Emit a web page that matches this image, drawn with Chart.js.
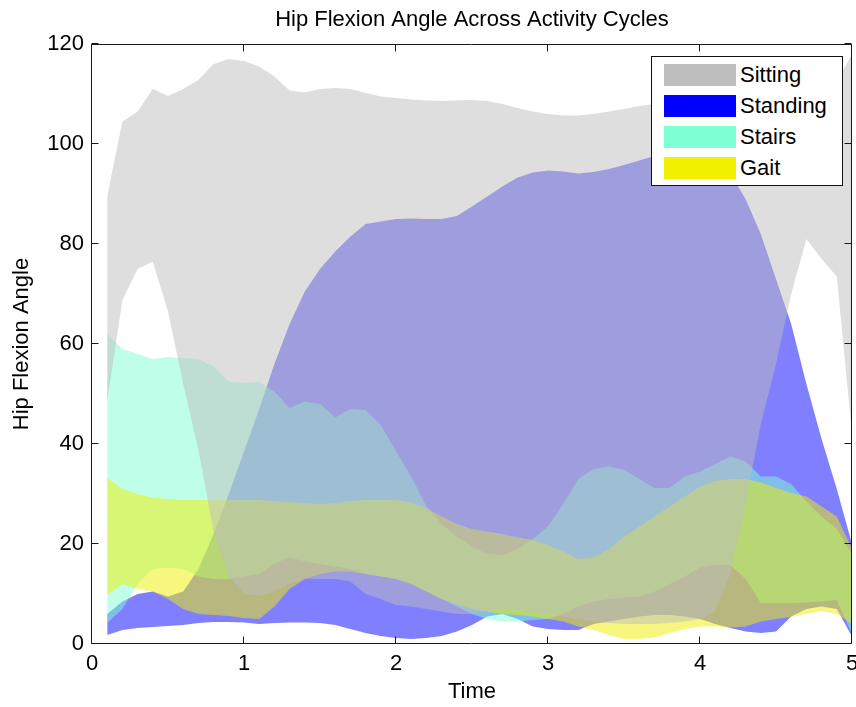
<!DOCTYPE html>
<html>
<head>
<meta charset="utf-8">
<title>Hip Flexion Angle Across Activity Cycles</title>
<script src="https://cdn.jsdelivr.net/npm/chart.js@4.4.1/dist/chart.umd.min.js"></script>
<style>
    html, body { margin: 0; padding: 0; background: #fff; }
    #wrap { position: relative; width: 856px; height: 707px; }
    #legend {
        position: absolute; background: #fff; border: 1px solid #111; box-sizing: border-box;
        width: 192px; height: 130px; padding: 2px 0 0 12px;
        font: 22px "Liberation Sans", Arial, Helvetica, sans-serif; color: #000;
    }
    #legend .row { display: flex; align-items: center; height: 31px; }
    #legend .sw { display: inline-block; width: 72px; height: 22px; margin-right: 4px; }
</style>
</head>
<body>
<div id="wrap">
    <canvas id="chart" width="856" height="707"></canvas>
    <div id="legend"></div>
</div>
<script>
// sample times (s)
const times = [0.1, 0.2, 0.3, 0.4, 0.5, 0.6, 0.7, 0.8, 0.9, 1.0,
               1.1, 1.2, 1.3, 1.4, 1.5, 1.6, 1.7, 1.8, 1.9, 2.0,
               2.1, 2.2, 2.3, 2.4, 2.5, 2.6, 2.7, 2.8, 2.9, 3.0,
               3.1, 3.2, 3.3, 3.4, 3.5, 3.6, 3.7, 3.8, 3.9, 4.0,
               4.1, 4.2, 4.3, 4.4, 4.5, 4.6, 4.7, 4.8, 4.9, 5.0];

const sittingUpper = [89.5, 104.5, 106.5, 111, 109.6, 111, 112.8, 116, 117, 116.6,
                      115.5, 113.5, 110.7, 110.3, 111, 111.2, 111, 110.2, 109.5, 109.2,
                      108.9, 108.7, 108.6, 108.7, 108.8, 108.6, 108, 107.2, 106.5, 106,
                      105.7, 105.7, 106, 106.5, 107, 107.6, 108, 108.4, 108.8, 109,
                      109.3, 109.5, 109.7, 110, 110.2, 110.5, 111, 111.5, 112.5, 118];
const sittingLower = [48.5, 68.8, 75, 76.5, 66.5, 52, 38.8, 22.5, 13.5, 10,
                      9.6, 10.5, 12, 13, 13, 13, 12.5, 10, 9, 7.8,
                      7.5, 7, 6.5, 6, 6, 6.5, 7, 7, 6.5, 6,
                      5.5, 5, 4.5, 4.2, 4, 4, 4, 4.2, 4.5, 5,
                      6.5, 14, 28, 44, 56, 70, 81, 77, 73.5, 42];

const standingUpper = [6, 8.5, 10, 10.5, 9.5, 10.5, 15, 22, 30, 38.5,
                       47, 56, 64, 70.5, 75, 78.5, 81.5, 84, 84.5, 85,
                       85.1, 85, 85, 85.6, 87.5, 89.5, 91.5, 93.3, 94.3, 94.7,
                       94.5, 94.1, 94.4, 95, 95.8, 96.7, 97.6, 98, 98.5, 98.5,
                       97, 94, 89, 82, 73, 64, 52, 41, 31, 20];
const standingLower = [1.8, 2.8, 3.2, 3.4, 3.6, 3.8, 4.2, 4.4, 4.4, 4.3,
                       4, 4.2, 4.3, 4.3, 4.2, 3.8, 3, 2.2, 1.6, 1.2,
                       1, 1.2, 1.6, 2.5, 3.8, 5.5, 6, 5, 3.5, 3,
                       2.8, 2.8, 4, 4.5, 5, 5.5, 5.8, 5.8, 5.5, 5,
                       4, 3.2, 2.5, 2.2, 2.5, 5.5, 7, 7.5, 7, 1.5];

const stairsUpper = [62, 59, 58, 57, 57.4, 57.2, 57, 55.5, 52.5, 52.2,
                     52.4, 50.5, 47.2, 48.5, 48, 45.3, 47, 46.8, 43.8, 38.5,
                     33.5, 27.5, 24, 21.5, 19.5, 18, 17.8, 19, 21, 23.5,
                     28, 33, 35, 35.5, 34.8, 33, 31.2, 31.2, 33.5, 34.5,
                     36, 37.5, 36.5, 33.5, 33.5, 32, 28.5, 25.5, 23, 18];
const stairsLower = [4.2, 7, 12, 15, 15.3, 15, 13.5, 13, 13, 13.5,
                     14, 16, 17.4, 16.5, 16, 15.5, 15, 14, 13.5, 13,
                     12, 10.5, 9, 7.5, 6, 5, 4.5, 4.5, 4.8, 5,
                     6, 7.5, 8.5, 9, 9.3, 9.5, 10.5, 12, 13.5, 15.3,
                     15.8, 15.8, 13, 8.2, 8.2, 8.2, 8.3, 8.5, 8.8, 2];

const gaitUpper = [33.2, 31, 30, 29.3, 29, 28.8, 28.8, 28.8, 28.8, 28.8,
                   28.8, 28.6, 28.4, 28.2, 28, 28.2, 28.6, 28.8, 28.8, 28.8,
                   28.3, 27.2, 25.5, 24, 23, 22.5, 22, 21.3, 20.8, 19.8,
                   18.5, 17, 17.3, 19, 21.5, 23.5, 25.5, 27.5, 29.5, 31.5,
                   32.6, 33, 33, 32.3, 31.2, 30.2, 29.5, 27.5, 25.5, 19];
const gaitLower = [9.8, 12, 11, 10.5, 9, 7, 6, 5.8, 5.6, 5.2,
                   5, 7.5, 11, 13, 14, 14.5, 14.5, 14, 13.5, 13,
                   12, 10.5, 9, 8, 7, 6.5, 6, 5.8, 5.5, 5,
                   4.5, 3.5, 2.8, 1.8, 1, 1, 1.3, 2.2, 3, 3.5,
                   3.5, 3.3, 3.5, 4.5, 5, 5.4, 6, 6.6, 6, 4];

const xTicks = [0, 1, 2, 3, 4, 5];
const yTicks = [0, 20, 40, 60, 80, 100, 120];

// legend order; "layer" is the drawing order (0 = on top)
const bands = [
    { label: 'Sitting',  upper: sittingUpper,  lower: sittingLower,  rgb: [190, 190, 190], layer: 0 },
    { label: 'Standing', upper: standingUpper, lower: standingLower, rgb: [0, 0, 255],     layer: 3 },
    { label: 'Stairs',   upper: stairsUpper,   lower: stairsLower,   rgb: [127, 255, 212], layer: 2 },
    { label: 'Gait',     upper: gaitUpper,     lower: gaitLower,     rgb: [240, 240, 0],   layer: 1 }
];

const FONT = '"Liberation Sans", Arial, Helvetica, sans-serif';
const TICK = 7;

const toPoints = (vals) => times.map((t, i) => ({ x: t, y: vals[i] }));

const datasets = [];
bands.forEach((b, i) => {
    const common = { borderWidth: 0, borderColor: 'rgba(0,0,0,0)', pointRadius: 0, pointHoverRadius: 0, tension: 0, order: b.layer };
    datasets.push({ ...common, label: b.label, data: toPoints(b.upper), fill: { target: 2 * i + 1 },
                    backgroundColor: `rgba(${b.rgb.join(',')},0.5)` });
    datasets.push({ ...common, label: b.label + ' low', data: toPoints(b.lower), fill: false });
});

// box + inward tick marks, drawn over the fills like MATLAB does
const axisBox = {
    id: 'axisBox',
    afterDatasetsDraw(chart) {
        const { ctx, chartArea: a, scales: { x, y } } = chart;
        const L = Math.round(a.left) - 0.5, R = Math.round(a.right) - 0.5;
        const T = Math.round(a.top) + 0.5, B = Math.round(a.bottom) - 0.5;
        ctx.save();
        ctx.strokeStyle = '#1a1a1a';
        ctx.lineWidth = 1;
        ctx.beginPath();
        ctx.rect(L, T, R - L, B - T);
        xTicks.forEach(v => {
            const px = Math.round(x.getPixelForValue(v)) - 0.5;
            ctx.moveTo(px, B); ctx.lineTo(px, B - TICK);
            ctx.moveTo(px, T); ctx.lineTo(px, T + TICK);
        });
        yTicks.forEach(v => {
            const py = Math.round(y.getPixelForValue(v)) - 0.5;
            ctx.moveTo(L, py); ctx.lineTo(L + TICK, py);
            ctx.moveTo(R, py); ctx.lineTo(R - TICK, py);
        });
        ctx.stroke();
        ctx.restore();
    }
};

Chart.defaults.font.family = FONT;
Chart.defaults.font.size = 22;
Chart.defaults.color = '#000';

const chart = new Chart(document.getElementById('chart'), {
    type: 'line',
    data: { datasets },
    options: {
        responsive: false,
        animation: false,
        events: [],
        layout: { padding: { right: 4 } },
        scales: {
            x: {
                type: 'linear', min: 0, max: 5,
                afterBuildTicks: s => { s.ticks = xTicks.map(v => ({ value: v })); },
                ticks: { padding: 7, color: '#000' },
                grid: { display: false, drawTicks: false },
                border: { display: false },
                title: { display: true, text: 'Time', padding: { top: 0, bottom: 2 } },
                afterFit: s => { s.height = 63; s.paddingLeft = 0; s.paddingRight = 0; }
            },
            y: {
                type: 'linear', min: 0, max: 120,
                afterBuildTicks: s => { s.ticks = yTicks.map(v => ({ value: v })); },
                ticks: { padding: 8, color: '#000' },
                grid: { display: false, drawTicks: false },
                border: { display: false },
                title: { display: true, text: 'Hip Flexion Angle', padding: { top: 9, bottom: 0 } },
                afterFit: s => { s.width = 92; s.paddingTop = 0; s.paddingBottom = 0; }
            }
        },
        plugins: {
            title: {
                display: true, text: 'Hip Flexion Angle Across Activity Cycles', fullSize: false,
                padding: { top: 7, bottom: 10.6 }, font: { size: 22, weight: 'normal' }, color: '#000'
            },
            legend: { display: false },
            tooltip: { enabled: false }
        }
    },
    plugins: [axisBox]
});

// legend box in the upper right corner of the axes
const legendEl = document.getElementById('legend');
legendEl.innerHTML = bands.map(b => `
    <div class="row"><span class="sw" style="background: rgb(${b.rgb.join(',')})"></span><span>${b.label}</span></div>
`).join('');
const area = chart.chartArea;
legendEl.style.left = (area.right - 201) + 'px';
legendEl.style.top = (area.top + 12) + 'px';
</script>
</body>
</html>
